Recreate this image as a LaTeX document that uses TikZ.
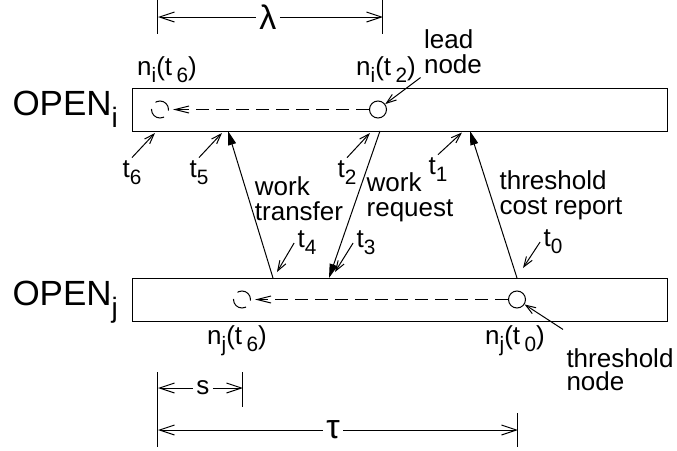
\documentclass[tikz,border=0pt]{standalone}
\usepackage{fontspec}
\setmainfont{Liberation Sans}
\usetikzlibrary{arrows.meta}
\newcommand\lo[2][0.5ex]{\raisebox{-#1}{\scalebox{0.8}{#2}}}

\begin{document}
\begin{tikzpicture}[x=5pt,y=-5pt,line width=0.5pt,
                    font=\fontsize{13}{12.5}\selectfont]
  \useasboundingbox (0,0) rectangle (67.7,45.1);

  \tikzstyle{Queue}=[draw,rectangle,inner sep=0pt,
                     minimum width=267.5pt,minimum height=21.5pt]
  \tikzstyle{Slot}=[draw,circle,inner sep=0pt,minimum size=8.5pt]
  \tikzstyle{OldSlot}=[Slot,dash pattern=on 9pt off 4pt]
  \tikzstyle{Big}=[font=\fontsize{17.5}{20}\selectfont,inner sep=0pt]
  \tikzstyle{Lbl}=[inner sep=1.5pt]
  \tikzstyle{Greek}=[inner sep=1.5pt,font=\fontsize{17}{20}\selectfont]
  \tikzstyle{Msg}=[-{Triangle[length=7pt,width=4pt]}]
  \tikzstyle{Tick}=[-{Straight Barb[length=5pt,width=3.5pt]}]
  \tikzstyle{Dim}=[-{Straight Barb[length=7.5pt,width=5pt]}]
  \tikzstyle{Move}=[dash pattern=on 6.5pt off 3.5pt,
                    -{Straight Barb[length=7pt,width=3.5pt]},shorten >=2pt]

  \node [Queue] (boxi) at (40.05,10.95) {};
  \node [Queue] (boxj) at (40.05,29.95) {};
  \node [Big,anchor=base west] (openi) at (1.2,11.5) {OPEN\lo[0.7ex]{i}};
  \node [Big,anchor=base west] (openj) at (1.2,30.5) {OPEN\lo[0.7ex]{j}};

  \node [Slot] (ci2) at (37.8,10.95) {};
  \node [OldSlot] (ci6) at (16.0,10.95) {};
  \node [Slot] (cj0) at (51.7,29.95) {};
  \node [OldSlot] (cj6) at (24.2,29.95) {};
  \draw [Move] (ci2) -- (ci6);
  \draw [Move] (cj0) -- (cj6);

  \node [Lbl] (ni6) at (16.7,7.0) {n\lo{i}(t\,\lo{6})};
  \node [Lbl] (ni2) at (38.6,7.0) {n\lo{i}(t\,\lo{2})};
  \node [Lbl] (nj6) at (23.7,34.1) {n\lo{j}(t\,\lo{6})};
  \node [Lbl] (nj0) at (51.5,34.1) {n\lo{j}(t\,\lo{0})};
  \node [Lbl,align=left] (lead) at (45.3,5.2) {lead\\node};
  \node [Lbl,align=left,font=\fontsize{13}{11.5}\selectfont] (thr) at (62.0,37.0) {threshold\\node};
  \draw [Tick] (lead.south west) -- (ci2);
  \draw [Tick] ([yshift=8pt]thr.north west) -- (cj0);

  \coordinate (i5) at (22.8,13.1);
  \coordinate (j4) at (27.3,27.8);
  \coordinate (i2) at (38.0,13.1);
  \coordinate (j3) at (32.9,27.8);
  \coordinate (j0) at (51.7,27.8);
  \coordinate (i1) at (47.0,13.1);
  \draw [Msg] (j4) -- (i5);
  \draw [Msg] (i2) -- (j3);
  \draw [Msg] (j0) -- (i1);

  \node [Lbl,align=left] (transfer) at (29.9,19.9) {work\\transfer};
  \node [Lbl,align=left] (request) at (41.0,19.7) {work\\request};
  \node [Lbl,align=left] (report) at (56.1,19.5) {threshold\\cost report};

  \node [Lbl] (t6) at (13.2,17.3) {t\lo{6}};
  \node [Lbl] (t5) at (19.9,17.3) {t\lo{5}};
  \node [Lbl] (t2) at (34.7,17.3) {t\lo{2}};
  \node [Lbl] (t1) at (43.8,17.0) {t\lo{1}};
  \node [Lbl] (t4) at (30.7,24.3) {t\lo{4}};
  \node [Lbl] (t3) at (36.6,24.3) {t\lo{3}};
  \node [Lbl] (t0) at (55.3,24.2) {t\lo{0}};
  \coordinate (k6) at (15.5,13.3);
  \coordinate (k5) at (22.2,13.3);
  \coordinate (k2) at (37.0,13.3);
  \coordinate (k1) at (46.2,13.25);
  \coordinate (k4) at (27.7,27.2);
  \coordinate (k3) at (33.5,27.2);
  \coordinate (k0) at (52.3,26.8);
  \draw [Tick] (t6.north) -- (k6);
  \draw [Tick] (t5.north) -- (k5);
  \draw [Tick] (t2.north) -- (k2);
  \draw [Tick] (t1.north) -- (k1);
  \draw [Tick] (t4.west) -- (k4);
  \draw [Tick] (t3.west) -- (k3);
  \draw [Tick] (t0.west) -- (k0);

  \draw (15.8,0) -- (15.8,3.4);
  \draw (38.3,0) -- (38.3,3.4);
  \coordinate (lamL) at (15.8,1.7);
  \coordinate (lamR) at (38.3,1.7);
  \node [Greek] (lam) at (26.8,1.7) {λ};
  \draw [Dim] (lam) -- (lamL);
  \draw [Dim] (lam) -- (lamR);

  \draw (15.8,37.2) -- (15.8,44.7);
  \draw (24.3,37.2) -- (24.3,40.7);
  \draw (51.8,41.3) -- (51.8,44.7);
  \coordinate (sL) at (15.8,38.8);
  \coordinate (sR) at (24.3,38.8);
  \coordinate (tauL) at (15.8,43.0);
  \coordinate (tauR) at (51.8,43.0);
  \node [Lbl] (s) at (20.3,38.8) {s};
  \node [Greek] (tau) at (33.3,43.0) {τ};
  \draw [Dim] (s) -- (sL);
  \draw [Dim] (s) -- (sR);
  \draw [Dim] (tau) -- (tauL);
  \draw [Dim] (tau) -- (tauR);
\end{tikzpicture}
\end{document}
